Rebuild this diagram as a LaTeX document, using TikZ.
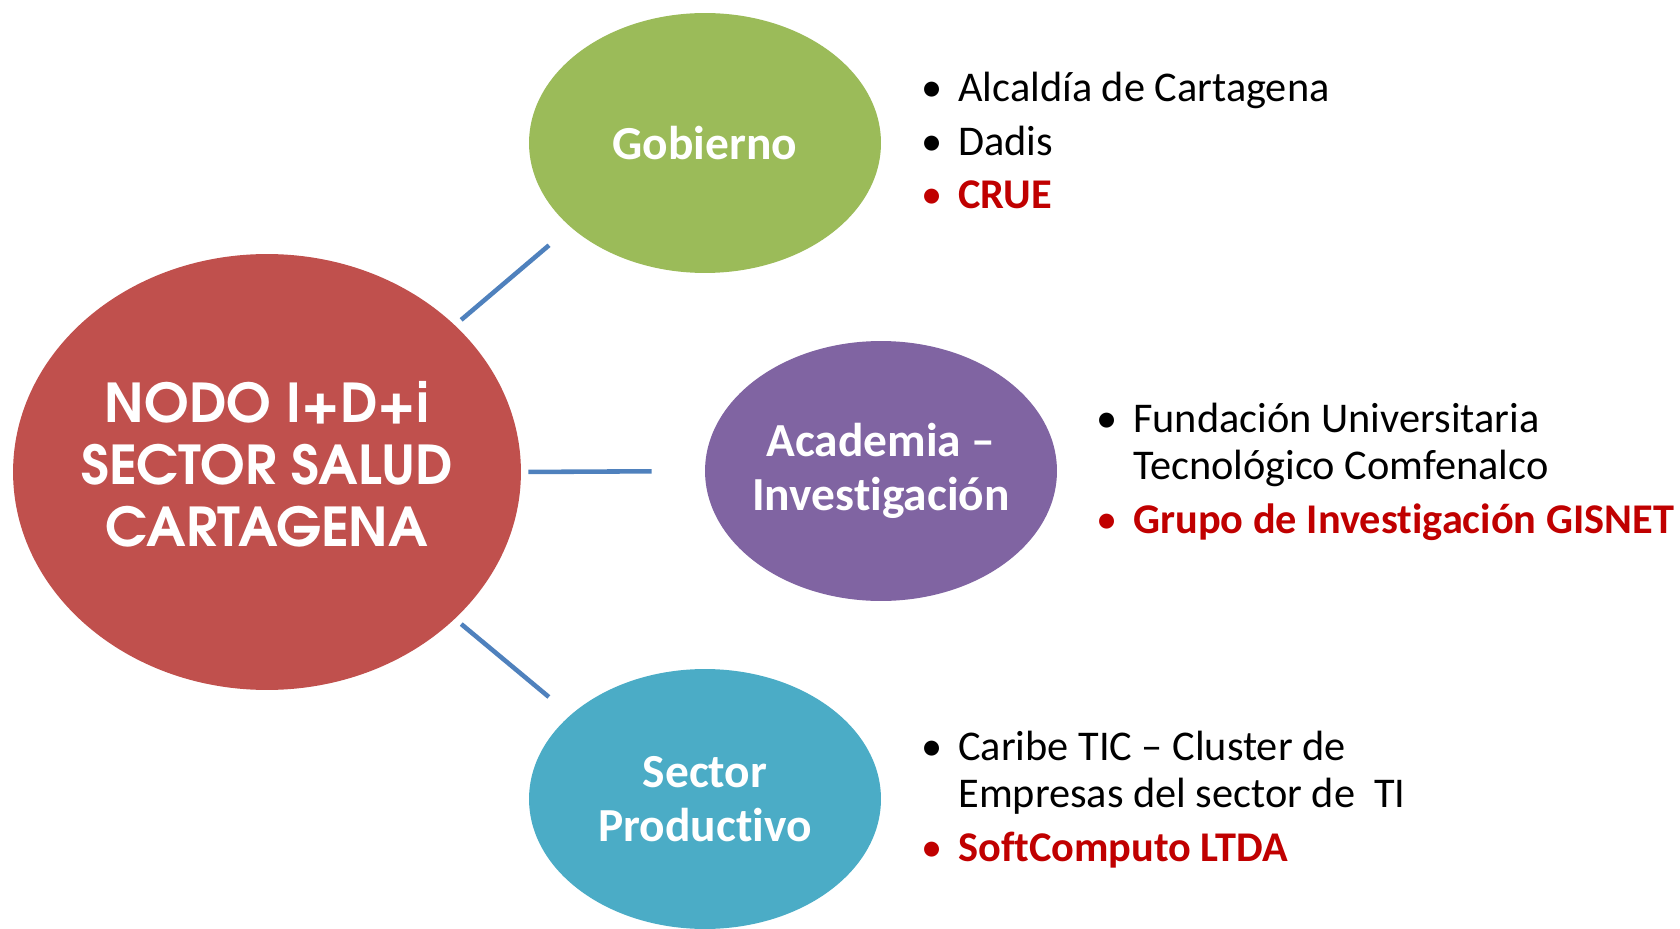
\documentclass[tikz,border=0pt]{standalone}
\usepackage{fontspec}
\setmainfont{Carlito}[Ligatures={TeX,NoCommon}]
\newfontfamily\gothicfont{TeX Gyre Adventor}
\usepackage{xcolor}
\usetikzlibrary{shapes.geometric}

\definecolor{rojoNodo}{HTML}{C0504D}
\definecolor{verdeGob}{HTML}{9BBB59}
\definecolor{moradoAcad}{HTML}{8064A2}
\definecolor{azulProd}{HTML}{4BACC6}
\definecolor{azulEnlace}{HTML}{4F81BD}
\definecolor{rojoTexto}{HTML}{C00000}

\newcommand{\itm}[1]{\makebox[0.74cm][l]{\textbullet}&#1}
\newcommand{\itmr}[1]{\textcolor{rojoTexto}{\makebox[0.74cm][l]{\textbullet}}&\textcolor{rojoTexto}{\bfseries #1}}

\begin{document}
\begin{tikzpicture}[x=0.02cm, y=-0.02cm,
    ovalo/.style={ellipse, inner sep=0pt, minimum width=7.04cm, minimum height=5.2cm},
    titulo/.style={text=white, align=center, font=\bfseries\fontsize{27}{30.5}\selectfont},
    principal/.style={text=white, align=center, yshift=0.16cm, font=\gothicfont\bfseries\fontsize{30.5}{35.2}\selectfont},
    lista/.style={anchor=base west, inner sep=0pt, align=left, font=\fontsize{24.1}{26.7}\selectfont},
    enlace/.style={azulEnlace, line width=2.6pt}]
  \useasboundingbox (0,0) rectangle (1680,929);

  \node[ellipse, inner sep=0pt, minimum width=10.16cm, minimum height=8.72cm, fill=rojoNodo,
    label={[principal]center:{NODO I+D+i\\SECTOR SALUD\\CARTAGENA}}] (nodo) at (267,472) {};

  \node[ovalo, fill=verdeGob, label={[titulo]center:{Gobierno}}] (gob) at (705,143) {};
  \node[ovalo, fill=moradoAcad, label={[titulo]center:{Academia --\\Investigación}}] (acad) at (881,471) {};
  \node[ovalo, fill=azulProd, label={[titulo]center:{Sector\\Productivo}}] (prod) at (705,799) {};

  \draw[enlace, shorten <=0.16cm, shorten >=0.56cm] (nodo.38) -- (gob.212);
  \draw[enlace, shorten <=0.14cm, shorten >=1.06cm] (nodo.east) -- (acad.west);
  \draw[enlace, shorten <=0.16cm, shorten >=0.56cm] (nodo.-38) -- (prod.148);

  \node[lista] (gobLista) at (921,101.7) {\begin{tabular}[t]{@{}l@{}l@{}}
    \itm{Alcaldía de Cartagena}\\[3.8pt]
    \itm{Dadis}\\[3.8pt]
    \itmr{CRUE}
  \end{tabular}};
  \node[lista] (acadLista) at (1096,432.7) {\begin{tabular}[t]{@{}l@{}l@{}}
    \itm{Fundación Universitaria}\\
    & Tecnológico Comfenalco\\[3.8pt]
    \itmr{Grupo de Investigación GISNET}
  \end{tabular}};
  \node[lista] (prodLista) at (921,760.7) {\begin{tabular}[t]{@{}l@{}l@{}}
    \itm{Caribe TIC -- Cluster de}\\
    & Empresas del sector de~~TI\\[3.8pt]
    \itmr{SoftComputo LTDA}
  \end{tabular}};
\end{tikzpicture}
\end{document}
